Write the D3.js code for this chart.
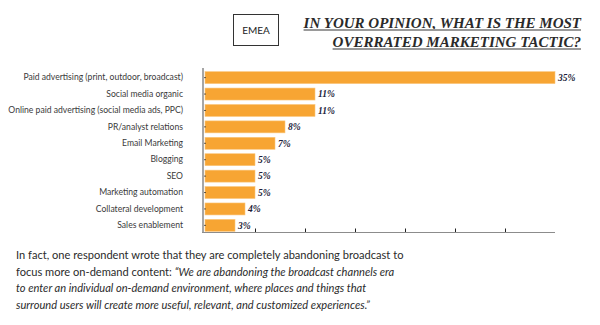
<!DOCTYPE html>
<html>
<head>
<meta charset="utf-8">
<script src="https://cdn.jsdelivr.net/npm/d3@7"></script>
<style>
  body { margin: 0; background: #fff; }
  svg { display: block; }
</style>
</head>
<body>
<div id="chart"></div>
<script>
// survey answers, top to bottom
const tactics = [
  "Paid advertising (print, outdoor, broadcast)",
  "Social media organic",
  "Online paid advertising (social media ads, PPC)",
  "PR/analyst relations",
  "Email Marketing",
  "Blogging",
  "SEO",
  "Marketing automation",
  "Collateral development",
  "Sales enablement"
];
const shares = [35, 11, 11, 8, 7, 5, 5, 5, 4, 3];
const gridTicks = [5, 10, 15, 20, 25, 30];

const titleLines = ["IN YOUR OPINION, WHAT IS THE MOST", "OVERRATED MARKETING TACTIC?"];
const regionLabel = "EMEA";

// paragraph under the chart: [plain part, italic part] per line
const noteLines = [
  ["In fact, one respondent wrote that they are completely abandoning broadcast to", ""],
  ["focus more on-demand content: ", "\u201cWe are abandoning the broadcast channels era"],
  ["", "to enter an individual on-demand environment, where places and things that"],
  ["", "surround users will create more useful, relevant, and customized experiences.\u201d"]
];

const W = 600, H = 325;
const plot = { left: 205, right: 555, top: 70, bottom: 233 };

const svg = d3.select("#chart")
  .append("svg")
  .attr("width", W)
  .attr("height", H);

// scales
const x = d3.scaleLinear()
  .domain([0, d3.max(shares)])
  .range([plot.left, plot.right]);

const y = d3.scaleBand()
  .domain(tactics)
  .range([plot.top, plot.bottom])
  .paddingInner(0.27)
  .paddingOuter(0.1);

// bars
svg.selectAll("rect.bar")
  .data(tactics)
  .join("rect")
  .attr("class", "bar")
  .attr("x", x(0))
  .attr("y", d => y(d))
  .attr("width", (d, i) => x(shares[i]) - x(0))
  .attr("height", y.bandwidth())
  .attr("fill", "#f7a533")
  .attr("stroke", "#fbc77e")
  .attr("stroke-width", 0.6);

// value labels
svg.selectAll("text.val")
  .data(tactics)
  .join("text")
  .attr("class", "val")
  .attr("x", (d, i) => x(shares[i]) + 3)
  .attr("y", d => y(d) + y.bandwidth() / 2)
  .attr("dy", "0.35em")
  .style("font-family", "'Liberation Serif', 'DejaVu Serif', serif")
  .style("font-style", "italic")
  .style("font-weight", "bold")
  .style("font-size", "9.5px")
  .style("fill", "#1d1d3a")
  .text((d, i) => shares[i] + "%");

// category axis
const yAxis = svg.append("g")
  .attr("transform", `translate(${plot.left - 2},0)`)
  .call(d3.axisLeft(y).tickSizeInner(-3).tickSizeOuter(0).tickPadding(20));
yAxis.select(".domain").remove();
yAxis.selectAll(".tick line").attr("stroke", "#333").attr("stroke-width", 0.8);
yAxis.selectAll(".tick text")
  .style("font-family", "Lato, 'Open Sans', sans-serif")
  .style("font-size", "8.6px")
  .style("fill", "#3a3a3a");

// value axis, no labels
const xAxis = svg.append("g")
  .attr("transform", `translate(0,${plot.bottom - 0.5})`)
  .call(d3.axisBottom(x).tickValues(gridTicks).tickSizeInner(-4).tickSizeOuter(0).tickFormat(""));
xAxis.select(".domain").remove();
xAxis.selectAll(".tick line").attr("stroke", "#222").attr("stroke-width", 1);

// axis lines
svg.append("line")
  .attr("x1", plot.left - 2).attr("x2", plot.left - 2)
  .attr("y1", plot.top - 2).attr("y2", plot.bottom)
  .attr("stroke", "#a6a6a6").attr("stroke-width", 2);
svg.append("line")
  .attr("x1", plot.left - 3).attr("x2", plot.right)
  .attr("y1", plot.bottom - 0.5).attr("y2", plot.bottom - 0.5)
  .attr("stroke", "#8c8c8c").attr("stroke-width", 1.2);

// region box
svg.append("rect")
  .attr("x", 233.5).attr("y", 14.5)
  .attr("width", 45).attr("height", 31)
  .attr("fill", "none")
  .attr("stroke", "#333")
  .attr("stroke-width", 1);
svg.append("text")
  .attr("x", 256).attr("y", 30)
  .attr("dy", "0.35em")
  .attr("text-anchor", "middle")
  .style("font-family", "Lato, sans-serif")
  .style("font-size", "10px")
  .style("fill", "#222")
  .text(regionLabel);

// title, right aligned with a grey underline
titleLines.forEach((t, i) => {
  const base = 28 + i * 19;
  const txt = svg.append("text")
    .attr("x", 581).attr("y", base)
    .attr("text-anchor", "end")
    .style("font-family", "'Liberation Serif', 'DejaVu Serif', serif")
    .style("font-style", "italic")
    .style("font-weight", "bold")
    .style("font-size", "15px")
    .style("fill", "#2a2a2a")
    .text(t);
  const len = txt.node().getComputedTextLength();
  svg.append("line")
    .attr("x1", 581 - len).attr("x2", 581)
    .attr("y1", base + 2).attr("y2", base + 2)
    .attr("stroke", "#9a9a9a").attr("stroke-width", 2);
});

// closing paragraph, one text per line
noteLines.forEach((l, i) => {
  const line = svg.append("text")
    .attr("x", 16)
    .attr("y", 259 + i * 16.5)
    .style("font-family", "Lato, 'Open Sans', sans-serif")
    .style("font-size", "11.1px")
    .style("fill", "#2b2b2b");
  if (l[0]) line.append("tspan").text(l[0]);
  if (l[1]) line.append("tspan").style("font-style", "italic").text(l[1]);
});
</script>
</body>
</html>
